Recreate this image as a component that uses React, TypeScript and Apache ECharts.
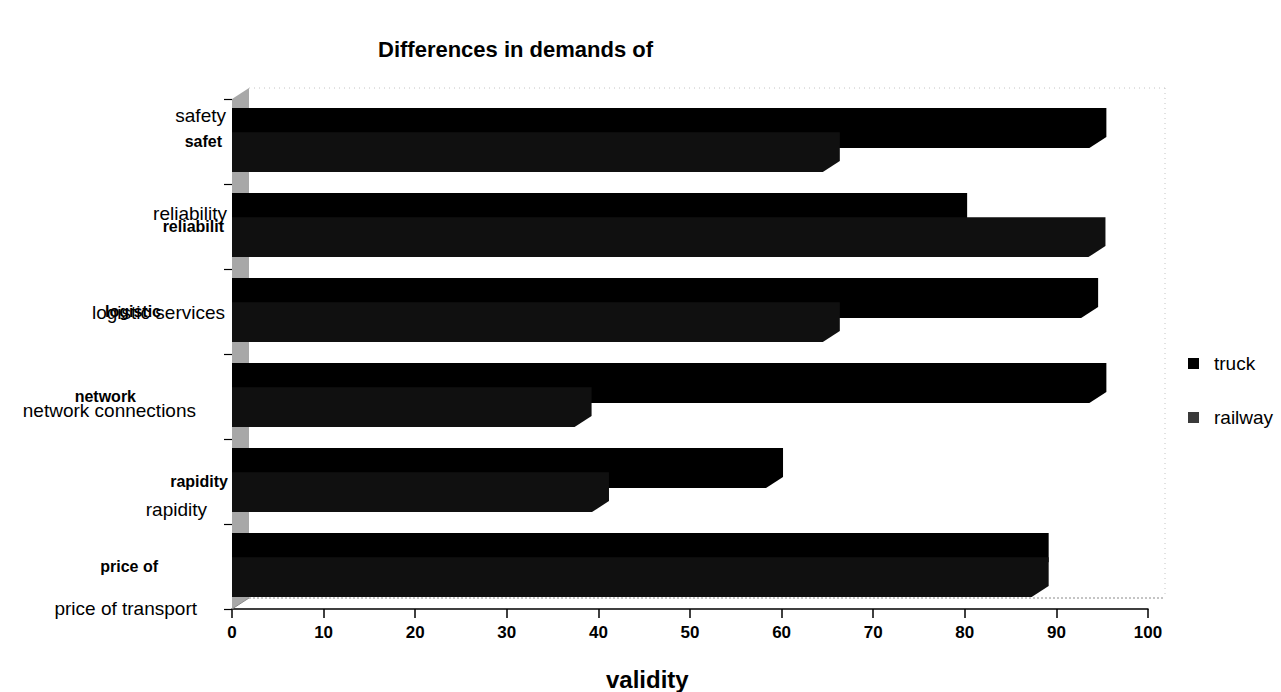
import React, { useEffect, useRef } from 'react';
import * as echarts from 'echarts';

const categories = ['price of transport', 'rapidity', 'network connections', 'logistic services', 'reliability', 'safety'];
const innerLabels = ['price of', 'rapidity', 'network', 'logistic', 'reliabilit', 'safet'];
const truckValues = [87.3, 58.3, 93.6, 92.7, 78.4, 93.6];
const railwayValues = [87.3, 39.3, 37.4, 64.5, 93.5, 64.5];
const innerPads = [74, 4, 96, 71, 8, 10];
const outerPads = [35, 25, 36, 7, 5, 6];

const FONT = '"Liberation Sans", Arial, sans-serif';
const DX = 17;
const DY = 11;

function barRender(topFrac: number, botFrac: number, color: string) {
  return (params: any, api: any) => {
    const val = api.value(0);
    const idx = api.value(1);
    const s = api.coord([0, idx]);
    const e = api.coord([val, idx]);
    const bandH = api.size([0, 1])[1];
    const bandTop = s[1] - bandH / 2;
    const top = bandTop + topFrac * bandH;
    const bot = bandTop + botFrac * bandH;
    return {
      type: 'polygon',
      shape: {
        points: [
          [s[0], top],
          [e[0] + DX, top],
          [e[0] + DX, bot - DY],
          [e[0], bot],
          [s[0], bot],
        ],
      },
      style: { fill: color },
    };
  };
}

function frameRender(params: any) {
  const c = params.coordSys;
  const x = c.x, y = c.y, w = c.width, h = c.height;
  return {
    type: 'group',
    children: [
      {
        type: 'polygon',
        shape: { points: [[x, y], [x + DX, y - DY], [x + DX, y + h - DY], [x, y + h]] },
        style: { fill: '#a8a8a8' },
      },
      {
        type: 'line',
        shape: { x1: x + DX, y1: y - DY, x2: x + w + DX, y2: y - DY },
        style: { stroke: '#c4c4c4', lineWidth: 1, lineDash: [1, 4] },
      },
      {
        type: 'line',
        shape: { x1: x + w + DX, y1: y - DY, x2: x + w + DX, y2: y + h - DY },
        style: { stroke: '#c4c4c4', lineWidth: 1, lineDash: [1, 4] },
      },
      {
        type: 'line',
        shape: { x1: x + DX, y1: y + h - DY, x2: x + w + DX, y2: y + h - DY },
        style: { stroke: '#8a8a8a', lineWidth: 1, lineDash: [2, 2] },
      },
      {
        type: 'line',
        shape: { x1: x, y1: y + h, x2: x + DX, y2: y + h - DY },
        style: { stroke: '#8a8a8a', lineWidth: 1 },
      },
    ],
  };
}

export default function App() {
  const ref = useRef<HTMLDivElement>(null);
  useEffect(() => {
    if (!ref.current) return;
    const chart = echarts.init(ref.current, null, { renderer: 'svg' });
    const innerRich: any = {};
    const outerRich: any = {};
    categories.forEach((_, i) => {
      innerRich['b' + i] = { fontFamily: FONT, fontSize: 16, fontWeight: 'bold', color: '#000', padding: [0, innerPads[i], 0, 0] };
      outerRich['r' + i] = { fontFamily: FONT, fontSize: 19, color: '#000', padding: [0, outerPads[i], 0, 0] };
    });
    chart.setOption({
      animation: false,
      backgroundColor: '#fff',
      title: [
        {
          text: 'Differences in demands of',
          left: 373,
          top: 33,
          textStyle: { fontFamily: FONT, fontSize: 22, fontWeight: 'bold', color: '#000' },
        },
        {
          text: 'validity',
          left: 601,
          top: 662,
          textStyle: { fontFamily: FONT, fontSize: 24, fontWeight: 'bold', color: '#000' },
        },
      ],
      legend: {
        orient: 'vertical',
        left: 1183,
        top: 349,
        itemWidth: 11,
        itemHeight: 11,
        itemGap: 35,
        icon: 'rect',
        data: [
          { name: 'truck', itemStyle: { color: '#000' } },
          { name: 'railway', itemStyle: { color: '#3a3a3a' } },
        ],
        formatter: (n: string) => '{t|' + n + '}',
        textStyle: {
          rich: { t: { fontFamily: FONT, fontSize: 19, color: '#000', padding: [0, 0, 0, 10] } },
        },
      },
      grid: [
        { left: 232, right: 133, top: 99, bottom: 83 },
        { left: 232, right: 133, top: 115, bottom: 84 },
      ],
      xAxis: [
        {
          gridIndex: 0,
          type: 'value',
          min: 0,
          max: 100,
          interval: 10,
          axisLine: { show: true, lineStyle: { color: '#000', width: 1.5 } },
          axisTick: { show: true, length: 9, lineStyle: { color: '#000', width: 1.5 } },
          axisLabel: { margin: 15, fontFamily: FONT, fontSize: 17, fontWeight: 'bold', color: '#000' },
          splitLine: { show: false },
        },
        { gridIndex: 1, type: 'value', min: 0, max: 100, show: false },
      ],
      yAxis: [
        {
          gridIndex: 0,
          type: 'category',
          data: categories,
          axisLine: { show: false },
          axisTick: { show: true, length: 8, inside: false, lineStyle: { color: '#000', width: 1.2 } },
          axisLabel: {
            margin: 0,
            formatter: (v: string, i: number) => '{b' + i + '|' + innerLabels[i] + '}',
            rich: innerRich,
          },
          splitLine: { show: false },
        },
        {
          gridIndex: 1,
          type: 'category',
          data: categories,
          boundaryGap: false,
          axisLine: { show: false },
          axisTick: { show: false },
          axisLabel: {
            margin: 0,
            interval: 0,
            formatter: (v: string, i: number) => '{r' + i + '|' + v + '}',
            rich: outerRich,
          },
          splitLine: { show: false },
        },
      ],
      series: [
        {
          name: 'frame',
          type: 'custom',
          xAxisIndex: 0,
          yAxisIndex: 0,
          z: 1,
          clip: false,
          silent: true,
          renderItem: frameRender,
          data: [[0, 0]],
          encode: { x: 0, y: 1 },
        },
        {
          name: 'truck',
          type: 'custom',
          xAxisIndex: 0,
          yAxisIndex: 0,
          z: 2,
          itemStyle: { color: '#000' },
          renderItem: barRender(0.106, 0.575, '#000'),
          data: truckValues.map((v, i) => [v, i]),
          encode: { x: 0, y: 1 },
        },
        {
          name: 'railway',
          type: 'custom',
          xAxisIndex: 0,
          yAxisIndex: 0,
          z: 3,
          itemStyle: { color: '#3a3a3a' },
          renderItem: barRender(0.39, 0.86, '#101010'),
          data: railwayValues.map((v, i) => [v, i]),
          encode: { x: 0, y: 1 },
        },
      ],
    });
    return () => chart.dispose();
  }, []);
  return <div ref={ref} style={{ position: 'fixed', left: 0, top: 0, width: 1281, height: 692 }} />;
}
